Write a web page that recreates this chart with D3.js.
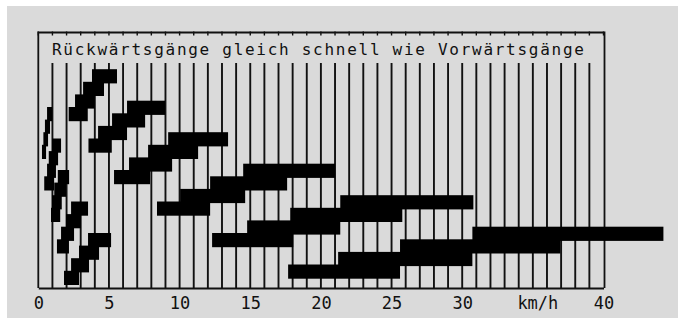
<!DOCTYPE html>
<html>
<head>
<meta charset="utf-8">
<script src="https://cdn.jsdelivr.net/npm/d3@7"></script>
<style>
    body { margin: 0; background: #fff; }
    svg { display: block; }
</style>
</head>
<body>
<svg id="chart"></svg>
<script>
// speed ranges of the gears, km/h, per group: gear 1 .. gear 4
const groupNames = ["L", "K", "J", "I", "H", "A", "B", "C", "D", "E", "F"];
// row of the fastest gear of each group (gear 4 on top, gear 1 three rows lower)
const groupTopRow = [3, 5.5, 8, 10.5, 13, 0, 2.5, 5, 7.5, 10, 12.5];
const gearMin = [
    [0.26, 0.36, 0.47, 0.62],
    [0.42, 0.62, 0.74, 0.97],
    [0.9, 0.97, 1.13, 1.38],
    [1.32, 1.61, 1.96, 2.32],
    [1.82, 2.32, 2.88, 3.52],
    [2.15, 2.6, 3.17, 3.8],
    [3.55, 4.23, 5.22, 6.28],
    [5.36, 6.42, 7.77, 9.19],
    [8.4, 10.04, 12.16, 14.5],
    [12.3, 14.78, 17.83, 21.37],
    [17.68, 21.22, 25.6, 30.72]
];
const gearMax = [
    [0.55, 0.69, 0.83, 0.97],
    [1.12, 1.25, 1.4, 1.61],
    [1.55, 1.66, 1.96, 2.18],
    [2.17, 2.53, 3.02, 3.52],
    [2.88, 3.59, 4.3, 5.15],
    [3.5, 4.0, 4.65, 5.57],
    [5.2, 6.28, 7.56, 8.97],
    [7.91, 9.47, 11.31, 13.43],
    [12.16, 14.64, 17.61, 21.0],
    [18.04, 21.37, 25.76, 30.79],
    [25.6, 30.72, 36.95, 44.24]
];
const xTickValues = [0, 5, 10, 15, 20, 25, 30, 35, 40];
const unitLabel = "km/h";
const title = "Rückwärtsgänge gleich schnell wie Vorwärtsgänge";

const W = 678, H = 318;
const frame = { left: 38.3, right: 603.5, top: 32.5, bottom: 288 };
const ink = "#111";

let bars = [];
groupNames.forEach((g, i) => {
    gearMin[i].forEach((lo, k) => {
        bars.push({ group: g, gear: k + 1, lo: lo, hi: gearMax[i][k], row: groupTopRow[i] + 3 - k });
    });
});

const svg = d3.select("#chart")
    .attr("width", W)
    .attr("height", H);

// scanned page: grey paper with a thin white margin top/left
svg.append("rect")
    .attr("x", 7).attr("y", 6)
    .attr("width", W - 7).attr("height", H - 6)
    .attr("fill", "#dadada");

const x = d3.scaleLinear()
    .domain([0, 40])
    .range([frame.left, frame.right]);

const y = d3.scaleLinear()
    .domain([0, 16])
    .range([70, 271.6]);

const rowH = y(1) - y(0);
const barPad = 0.8; // printed bars bleed a little over their row

// vertical grid, one line per km/h
svg.append("g")
    .selectAll("line")
    .data(x.ticks(40).filter(d => d > 0 && d < 40))
    .join("line")
    .attr("x1", d => x(d)).attr("x2", d => x(d))
    .attr("y1", 63).attr("y2", frame.bottom)
    .attr("stroke", ink)
    .attr("stroke-width", 1.9);

// small ticks under the top border
svg.append("g")
    .selectAll("line")
    .data(x.ticks(40))
    .join("line")
    .attr("x1", d => x(d)).attr("x2", d => x(d))
    .attr("y1", frame.top - 1).attr("y2", frame.top + 3)
    .attr("stroke", ink)
    .attr("stroke-width", 1.4);

// frame: left, top, right
svg.append("path")
    .attr("d", `M${frame.left},${frame.bottom}V${frame.top}H${frame.right + 1}V${frame.bottom}`)
    .attr("fill", "none")
    .attr("stroke", ink)
    .attr("stroke-width", 1.8);

// gear bars
svg.append("g")
    .selectAll("rect")
    .data(bars)
    .join("rect")
    .attr("x", d => x(d.lo))
    .attr("y", d => y(d.row) - barPad)
    .attr("width", d => x(d.hi) - x(d.lo))
    .attr("height", rowH + 2 * barPad)
    .attr("fill", "#000");

// x axis
const xaxis = d3.axisBottom(x)
    .tickValues(xTickValues)
    .tickFormat(d => d === 35 ? unitLabel : d)
    .tickSize(0)
    .tickSizeOuter(0)
    .tickPadding(8.5);

const axisG = svg.append("g")
    .attr("transform", `translate(0, ${frame.bottom})`)
    .call(xaxis);

axisG.select(".domain")
    .attr("stroke", ink)
    .attr("stroke-width", 2.2);

axisG.selectAll("text")
    .attr("font-family", "'DejaVu Sans Mono', monospace")
    .attr("font-size", 17)
    .attr("fill", ink)
    .attr("dx", d => d === 35 ? 4.5 : 0);

svg.append("text")
    .attr("x", 52)
    .attr("y", 54.5)
    .attr("font-family", "'DejaVu Sans Mono', monospace")
    .attr("font-size", 16)
    .attr("letter-spacing", 1.72)
    .attr("fill", ink)
    .text(title);
</script>
</body>
</html>
